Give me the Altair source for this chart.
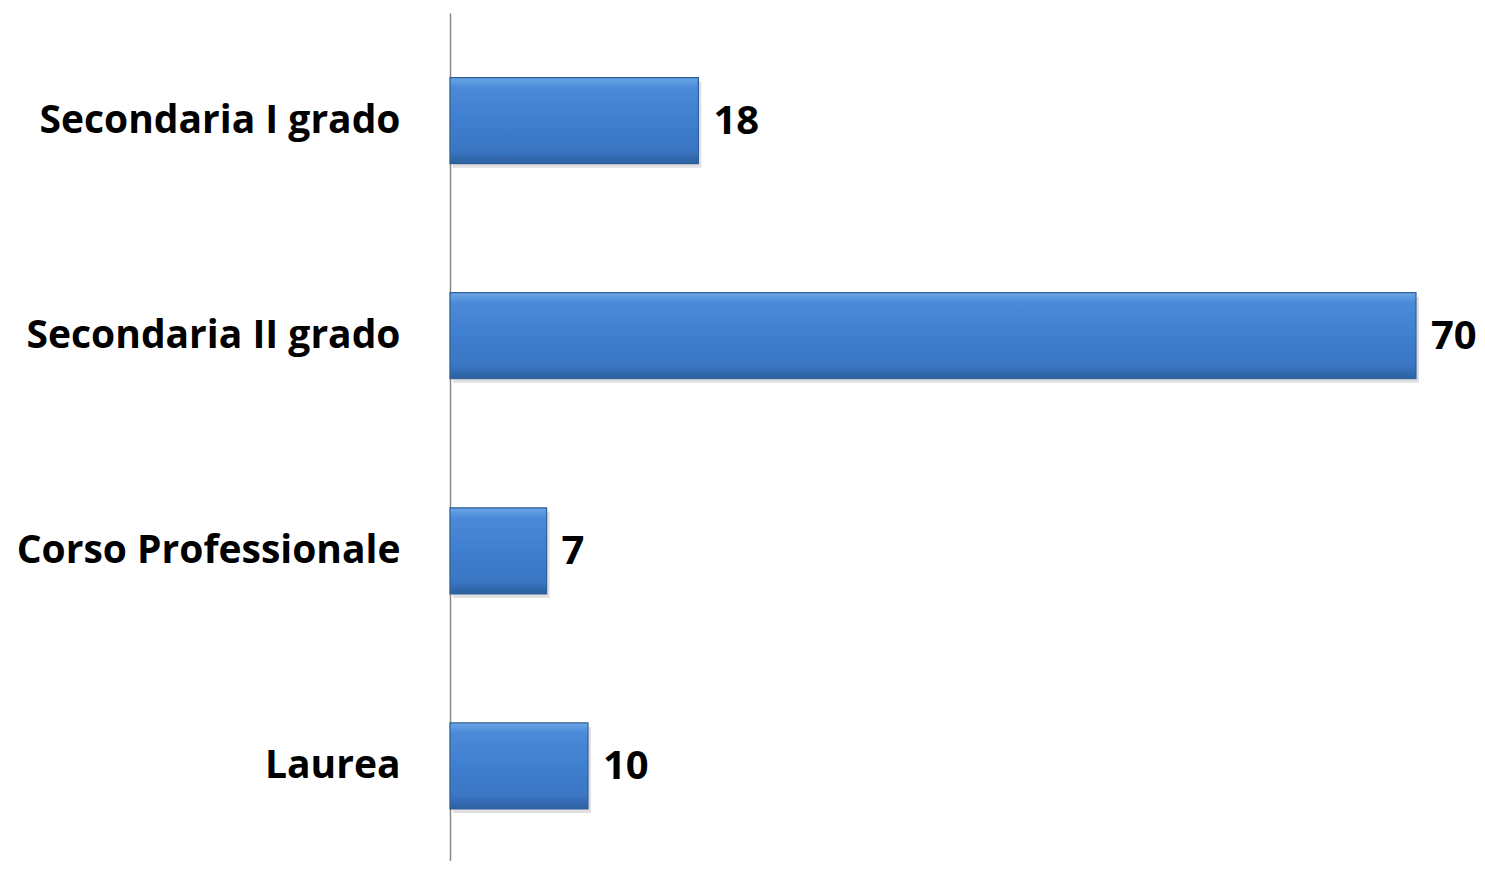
import altair as alt
import pandas as pd

categories = ["Secondaria I grado", "Secondaria II grado", "Corso Professionale", "Laurea"]
values = [18, 70, 7, 10]

df = pd.DataFrame({"cat": categories, "val": values})

FONT = "Open Sans"

grad = alt.Gradient(
    gradient="linear",
    x1=0, y1=0, x2=0, y2=1,
    stops=[
        alt.GradientStop(color="#6aa6e6", offset=0.0),
        alt.GradientStop(color="#4a8ad8", offset=0.12),
        alt.GradientStop(color="#3f7fcf", offset=0.5),
        alt.GradientStop(color="#3a76c3", offset=0.85),
        alt.GradientStop(color="#2c5f9e", offset=1.0),
    ],
)

y_enc = alt.Y(
    "cat:N",
    sort=categories,
    title=None,
    scale=alt.Scale(paddingInner=0.6, paddingOuter=0.271, align=0.554),
    axis=alt.Axis(
        ticks=False,
        domainColor="#888888",
        domainWidth=1.5,
        labelFont=FONT,
        labelFontSize=39,
        labelFontWeight="bold",
        labelColor="#000000",
        labelPadding=50,
        labelLimit=500,
    ),
)
x_enc = alt.X("val:Q", scale=alt.Scale(domain=[0, 70], nice=False), axis=None)

shadow = alt.Chart(df).mark_bar(color="#000000", opacity=0.12, xOffset=3, yOffset=4).encode(
    x=x_enc, y=y_enc
)

bars = alt.Chart(df).mark_bar(
    color=grad, stroke="#2f6099", strokeWidth=1.2
).encode(x=x_enc, y=y_enc)

labels = alt.Chart(df).mark_text(
    align="left", baseline="middle", dx=15, dy=1, font=FONT, fontSize=40, fontWeight="bold", color="#000000"
).encode(x=x_enc, y=y_enc, text="val:Q")

chart = (
    alt.layer(shadow, bars, labels)
    .properties(
        width=966,
        height=848,
        autosize=alt.AutoSizeParams(type="none"),
        padding={"left": 442, "top": 5, "right": 61, "bottom": 0},
    )
    .configure_view(stroke=None)
    .configure_axis(grid=False)
)

chart.save("out.html", embed_options={"renderer": "svg", "actions": False})
